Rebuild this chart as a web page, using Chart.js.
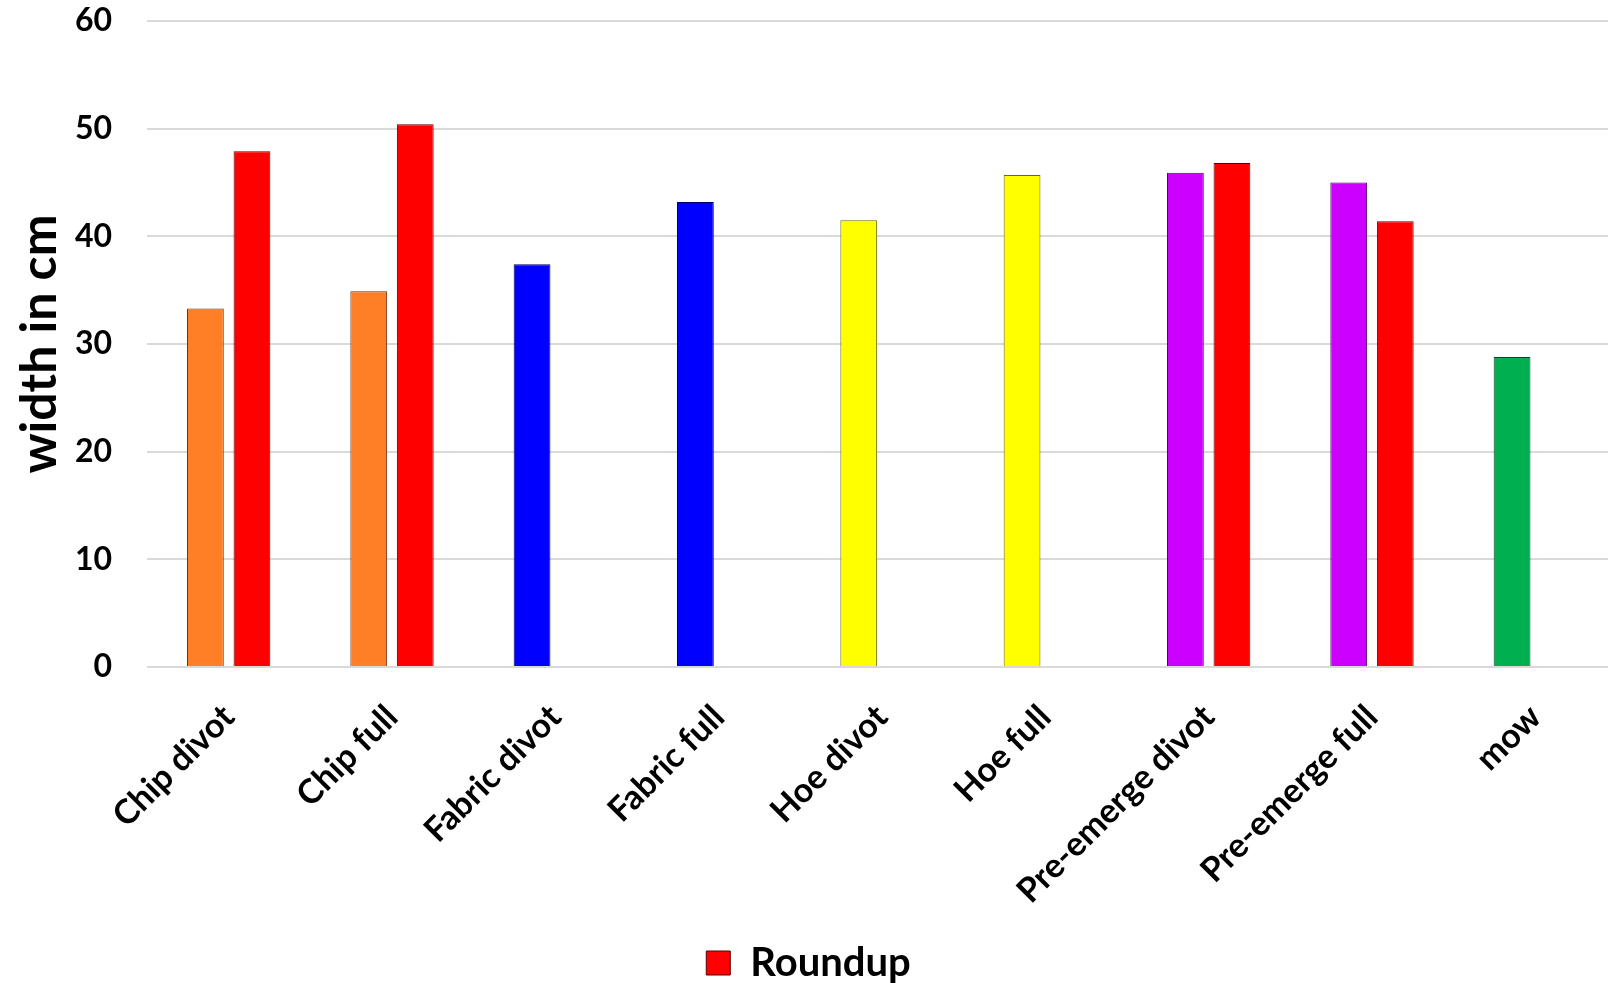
<!DOCTYPE html>
<html>
<head>
<meta charset="utf-8">
<title>width in cm</title>
<script src="https://cdn.jsdelivr.net/npm/chart.js@4/dist/chart.umd.min.js"></script>
<style>
    html, body { margin: 0; padding: 0; background: #ffffff; overflow: hidden; }
    #wrap { width: 1627px; height: 983px; }
</style>
</head>
<body>
<div id="wrap"><canvas id="widthChart"></canvas></div>
<script>
// Catégories (traitements)
const treatments = ['Chip divot', 'Chip full', 'Fabric divot', 'Fabric full', 'Hoe divot', 'Hoe full', 'Pre-emerge divot', 'Pre-emerge full', 'mow'];

// Largeur mesurée, en cm
const widthValues = [33.3, 34.9, 37.4, 43.2, 41.5, 45.7, 45.9, 45.0, 28.8];
const roundupValues = [47.9, 50.4, null, null, null, null, 46.8, 41.4, null];

// Couleur par traitement
const treatmentColors = ['#ff7f27', '#ff7f27', '#0000ff', '#0000ff', '#ffff00', '#ffff00', '#cc00ff', '#cc00ff', '#00b050'];
const treatmentBorders = ['#6b3410', '#6b3410', '#00006b', '#00006b', '#6b6b00', '#6b6b00', '#550066', '#550066', '#004a22'];

// Graduations de l'axe Y
const yTicks = [0, 10, 20, 30, 40, 50, 60];

const FONT = 'Lato, "Open Sans", sans-serif';

document.addEventListener('DOMContentLoaded', function () {
    const ctx = document.getElementById('widthChart').getContext('2d');

    new Chart(ctx, {
        type: 'bar',
        data: {
            labels: treatments,
            datasets: [
                {
                    label: 'width',
                    data: widthValues,
                    backgroundColor: treatmentColors,
                    borderColor: treatmentBorders,
                    borderWidth: 1
                },
                {
                    label: 'Roundup',
                    data: roundupValues,
                    backgroundColor: '#ff0000',
                    borderColor: '#5a0000',
                    borderWidth: 1
                }
            ]
        },
        options: {
            responsive: true,
            maintainAspectRatio: false,
            animation: false,
            categoryPercentage: 0.57,
            barPercentage: 0.79,
            layout: {
                padding: { top: 21, right: 10, bottom: -10, left: 0 }
            },
            plugins: {
                tooltip: { enabled: false },
                legend: {
                    position: 'bottom',
                    labels: {
                        // seule la série Roundup apparaît dans la légende
                        filter: item => item.text === 'Roundup',
                        color: '#000000',
                        boxWidth: 24,
                        boxHeight: 24,
                        padding: 0,
                        font: { family: FONT, size: 40, weight: 'bold' }
                    }
                }
            },
            scales: {
                x: {
                    grid: { display: false },
                    border: { display: false },
                    ticks: {
                        color: '#000000',
                        autoSkip: false,
                        minRotation: 45,
                        maxRotation: 45,
                        padding: 22,
                        font: { family: FONT, size: 34, weight: 'bold' }
                    },
                    afterFit: scale => { scale.height = 276; }
                },
                y: {
                    min: 0,
                    max: 60,
                    afterBuildTicks: scale => {
                        scale.ticks = yTicks.map(v => ({ value: v }));
                    },
                    grid: { color: '#d9d9d9', lineWidth: 2, drawTicks: false },
                    border: { display: false },
                    ticks: {
                        color: '#000000',
                        padding: 35,
                        font: { family: FONT, size: 32, weight: 'bold' }
                    },
                    title: {
                        display: true,
                        text: 'width in cm',
                        color: '#000000',
                        padding: { top: 10, bottom: 0 },
                        font: { family: FONT, size: 50, weight: 'bold' }
                    },
                    afterFit: scale => {
                        scale.width = 147;
                        // pas de marge supplémentaire pour les libellés extrêmes
                        scale.paddingTop = 0;
                        scale.paddingBottom = 0;
                    }
                }
            }
        }
    });
});
</script>
</body>
</html>
